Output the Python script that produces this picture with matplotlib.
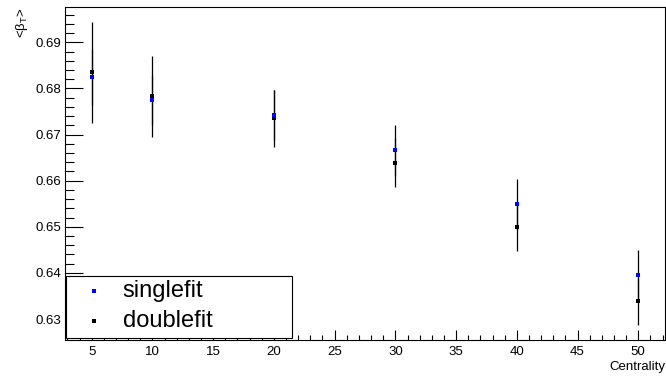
#!/usr/bin/env python3
import matplotlib
matplotlib.use('Agg')
import matplotlib.pyplot as plt
from matplotlib.patches import Rectangle
from matplotlib.ticker import MultipleLocator, FormatStrFormatter

plt.rcParams['font.family'] = ['Liberation Sans', 'DejaVu Sans']
plt.rcParams['mathtext.fontset'] = 'custom'
plt.rcParams['mathtext.rm'] = 'Liberation Sans'

# centrality bins and mean beta_T values
centrality = [5, 10, 20, 30, 40, 50]
single_beta = [0.6825, 0.6775, 0.6742, 0.6666, 0.6549, 0.6396]
single_err = [0.0061, 0.0055, 0.0054, 0.0055, 0.0055, 0.0054]
double_beta = [0.6835, 0.6783, 0.6735, 0.6639, 0.6499, 0.6338]
double_err = [0.0110, 0.0088, 0.0062, 0.0053, 0.0051, 0.0052]

W, H = 666, 377
fig = plt.figure(figsize=(W / 100, H / 100), dpi=100)
ax = fig.add_axes([65 / W, 1 - 339.5 / H, 600 / W, 332.2 / H])

ax.errorbar(centrality, double_beta, yerr=double_err, fmt='s', color='black',
            ecolor='black', elinewidth=0.9, capsize=1.2, capthick=0.8,
            markersize=3, markeredgewidth=0, zorder=3)
ax.errorbar(centrality, single_beta, yerr=single_err, fmt='s', color='blue',
            ecolor='black', elinewidth=0.9, capsize=1.2, capthick=0.8,
            markersize=3, markeredgewidth=0, zorder=4)

ax.set_xlim(2.8, 52.2)
ax.set_ylim(0.62556, 0.69759)

ax.xaxis.set_major_locator(MultipleLocator(5))
ax.xaxis.set_minor_locator(MultipleLocator(1))
ax.yaxis.set_major_locator(MultipleLocator(0.01))
ax.yaxis.set_minor_locator(MultipleLocator(0.002))
ax.yaxis.set_major_formatter(FormatStrFormatter('%.2f'))

ax.tick_params(axis='both', which='both', direction='in', top=False, right=False,
               width=0.8, labelsize=9.5)
ax.tick_params(axis='x', which='major', length=7.2, pad=5)
ax.tick_params(axis='x', which='minor', length=3.6)
ax.tick_params(axis='y', which='major', length=12.8, pad=2.5)
ax.tick_params(axis='y', which='minor', length=6.4)
for sp in ax.spines.values():
    sp.set_linewidth(0.8)

ax.set_xlabel('Centrality', loc='right', fontsize=9.5, labelpad=1.5)
fig.text(22.5 / W, 1 - 7 / H, '<β$_{\\mathrm{T}}$>', rotation=90,
         ha='center', va='top', fontsize=9.5)

# legend box in the lower-left corner, ROOT style
ax.add_patch(Rectangle((0.0017, 0.004), 0.3766, 0.1875, transform=ax.transAxes,
                       facecolor='white', edgecolor='black', linewidth=0.8,
                       zorder=5, clip_on=False))
leg_entries = [('singlefit', 'blue', 0.146), ('doublefit', 'black', 0.057)]
for label, col, yy in leg_entries:
    ax.plot([0.048], [yy], 's', color=col, markersize=3, markeredgewidth=0,
            transform=ax.transAxes, zorder=6, clip_on=False)
    ax.text(0.096, yy, label, transform=ax.transAxes, fontsize=17,
            ha='left', va='center', zorder=6)

fig.savefig('out.png', dpi=100)
